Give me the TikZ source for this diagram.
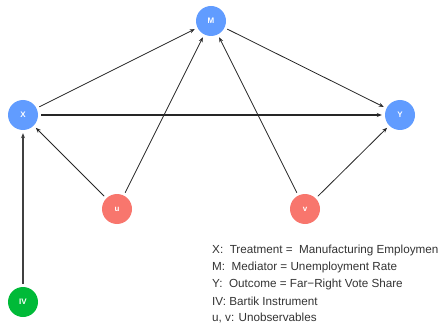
\documentclass[tikz,border=0pt]{standalone}
\usepackage{fontspec}
\setmainfont{Liberation Sans}
\usetikzlibrary{arrows.meta}
\definecolor{nblue}{HTML}{619CFF}
\definecolor{nred}{HTML}{F8766D}
\definecolor{ngreen}{HTML}{00BA38}
\definecolor{txt}{HTML}{333333}
\tikzset{
  vnode/.style={circle, minimum size=30pt, inner sep=0pt, text=white, font=\fontsize{8}{9}\selectfont\bfseries},
  edge/.style={-{Stealth[length=5pt,width=4pt]}, line width=0.8pt, black!85, shorten >=3pt, shorten <=3pt},
  legend/.style={anchor=west, inner sep=0pt, text=txt, font=\fontsize{11.7}{13}\selectfont}
}
\begin{document}
\begin{tikzpicture}[x=1pt,y=-1pt]
\clip (0,0) rectangle (438,323);
\useasboundingbox (0,0) rectangle (438,323);
\node[vnode, fill=nblue] (M) at (211,21) {M};
\node[vnode, fill=nblue] (X) at (23,115) {X};
\node[vnode, fill=nblue] (Y) at (400,115) {Y};
\node[vnode, fill=nred] (u) at (117,209) {u};
\node[vnode, fill=nred] (v) at (305,209) {v};
\node[vnode, fill=ngreen] (IV) at (23,302) {IV};
\draw[edge] (X) -- (M);
\draw[edge] (M) -- (Y);
\draw[edge, line width=1.1pt] (X) -- (Y);
\draw[edge] (u) -- (X);
\draw[edge] (u) -- (M);
\draw[edge] (v) -- (M);
\draw[edge] (v) -- (Y);
\draw[edge, line width=1.5pt, black!75] (IV) -- (X);
\node[legend] (l1) at (212,250) {X:\ \ Treatment =\ \ Manufacturing Employment};
\node[legend] (l2) at (212,267) {M:\ \ Mediator = Unemployment Rate};
\node[legend] (l3) at (212,284) {Y:\ \ Outcome = Far\textminus Right Vote Share};
\node[legend] (l4) at (212,301) {IV: Bartik Instrument};
\node[legend] (l5) at (212,318) {u, v: Unobservables};
\end{tikzpicture}
\end{document}
